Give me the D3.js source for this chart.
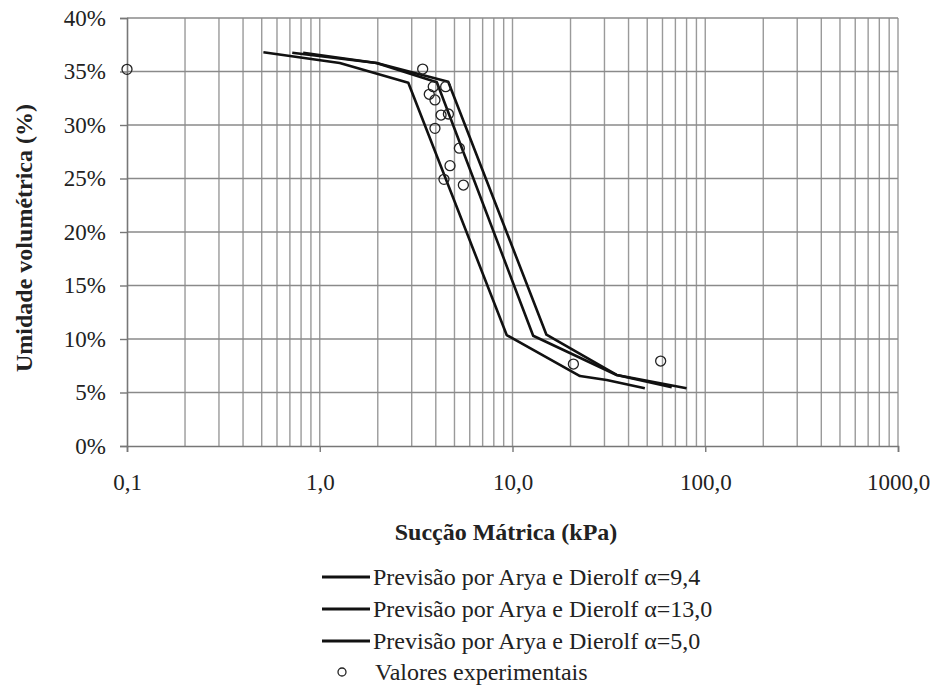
<!DOCTYPE html>
<html><head><meta charset="utf-8">
<script src="https://cdn.jsdelivr.net/npm/d3@7/dist/d3.min.js"></script>
<style>body{margin:0;background:#fff;} svg{display:block;} svg text{font-family:"Liberation Serif","DejaVu Serif",serif;}</style>
</head><body>
<svg id="c" width="937" height="693"></svg>
<script>
// Series (suction kPa, volumetric water content %)
const seriesNames = ["Previsão por Arya e Dierolf α=9,4","Previsão por Arya e Dierolf α=13,0","Previsão por Arya e Dierolf α=5,0"];
const curve94x = [0.72, 1.97, 4.05, 12.8, 34.7, 67];
const curve94y = [36.76, 35.8, 34.0, 10.3, 6.64, 5.49];
const curve130x = [0.82, 1.97, 4.64, 15.0, 34.7, 80];
const curve130y = [36.76, 35.8, 34.05, 10.4, 6.64, 5.39];
const curve50x = [0.51, 1.27, 2.88, 9.33, 22.4, 30.8, 48.6];
const curve50y = [36.8, 35.8, 33.95, 10.37, 6.54, 6.17, 5.39];
const expX = [0.1, 3.42, 3.88, 3.70, 3.96, 4.50, 4.26, 4.65, 3.96, 5.30, 4.74, 4.41, 5.56, 20.7, 58.7];
const expY = [35.2, 35.23, 33.58, 32.87, 32.34, 33.58, 30.93, 31.03, 29.69, 27.83, 26.2, 24.92, 24.39, 7.66, 7.94];
const xTicks = [0.1, 1, 10, 100, 1000];
const xTickLabels = ["0,1", "1,0", "10,0", "100,0", "1000,0"];
const yTicks = [0, 5, 10, 15, 20, 25, 30, 35, 40];
const legendExp = "Valores experimentais";
const xTitle = "Sucção Mátrica (kPa)";
const yTitle = "Umidade volumétrica (%)";

const svg = d3.select("#c");
const L = 127, R = 898, T = 18, B = 446;
const x = d3.scaleLog().domain([0.1, 1000]).range([L, R]);
const y = d3.scaleLinear().domain([0, 40]).range([B, T]);
const font = "Liberation Serif, DejaVu Serif, serif";

const minor = [];
for (let d = 0.1; d < 1000; d *= 10) for (let k = 2; k <= 10; k++) minor.push(+(d * k).toPrecision(3));
svg.append("g").selectAll("line").data(minor).join("line")
  .attr("x1", d => x(d)).attr("x2", d => x(d)).attr("y1", T).attr("y2", B)
  .attr("stroke", "#9a9a9a").attr("stroke-width", 1.4);
svg.append("g").selectAll("line").data(yTicks.slice(1)).join("line")
  .attr("x1", L).attr("x2", R).attr("y1", d => y(d)).attr("y2", d => y(d))
  .attr("stroke", "#8a8a8a").attr("stroke-width", 1.6);

const yAxis = svg.append("g").attr("transform", `translate(${L},0)`)
  .call(d3.axisLeft(y).tickValues(yTicks).tickFormat(d => d + "%").tickSize(7).tickPadding(14));
yAxis.attr("font-family", null).attr("font-size", null);
yAxis.select(".domain").attr("stroke", "#777").attr("stroke-width", 1.6);
yAxis.selectAll(".tick line").attr("stroke", "#777").attr("stroke-width", 1.4);
yAxis.selectAll("text").style("font-family", font).style("font-size", "23px").attr("fill", "#222");

const xAxis = svg.append("g").attr("transform", `translate(0,${B})`)
  .call(d3.axisBottom(x).tickValues(xTicks).tickFormat((d, i) => xTickLabels[i]).tickSize(6));
xAxis.attr("font-family", null).attr("font-size", null);
xAxis.select(".domain").attr("stroke", "#777").attr("stroke-width", 1.6);
xAxis.selectAll(".tick line").attr("stroke", "#777").attr("stroke-width", 1.4);
xAxis.selectAll("text").attr("dy", null).attr("y", 44)
  .style("font-family", font).style("font-size", "23px").attr("fill", "#222");

const line = d3.line().x(d => x(d[0])).y(d => y(d[1]));
const curves = [[curve94x, curve94y], [curve130x, curve130y], [curve50x, curve50y]];
svg.append("g").selectAll("path").data(curves).join("path")
  .attr("d", c => line(c[0].map((v, i) => [v, c[1][i]])))
  .attr("fill", "none").attr("stroke", "#111").attr("stroke-width", 2.6).attr("stroke-linejoin", "round");

svg.append("g").selectAll("circle").data(expX.map((v, i) => [v, expY[i]])).join("circle")
  .attr("cx", d => x(d[0])).attr("cy", d => y(d[1])).attr("r", 5)
  .attr("fill", "none").attr("stroke", "#222").attr("stroke-width", 1.3);

svg.append("text").attr("x", 506).attr("y", 540).attr("text-anchor", "middle")
  .style("font-family", font).attr("font-weight", "bold").style("font-size", "24px").attr("fill", "#222").text(xTitle);
svg.append("text").attr("transform", `translate(32,238) rotate(-90)`).attr("text-anchor", "middle")
  .style("font-family", font).attr("font-weight", "bold").style("font-size", "24px").attr("fill", "#222").text(yTitle);

const lg = svg.append("g");
const ly = [577, 609, 641];
seriesNames.forEach((n, i) => {
  lg.append("line").attr("x1", 322).attr("x2", 370).attr("y1", ly[i]).attr("y2", ly[i])
    .attr("stroke", "#111").attr("stroke-width", 3.2);
  lg.append("text").attr("x", 373).attr("y", ly[i] + 8).style("font-family", font).style("font-size", "24px")
    .attr("fill", "#222").text(n);
});
lg.append("circle").attr("cx", 342).attr("cy", 672).attr("r", 4).attr("fill", "none").attr("stroke", "#222").attr("stroke-width", 1.3);
lg.append("text").attr("x", 375).attr("y", 680).style("font-family", font).style("font-size", "24px").attr("fill", "#222").text(legendExp);
</script>
</body></html>
